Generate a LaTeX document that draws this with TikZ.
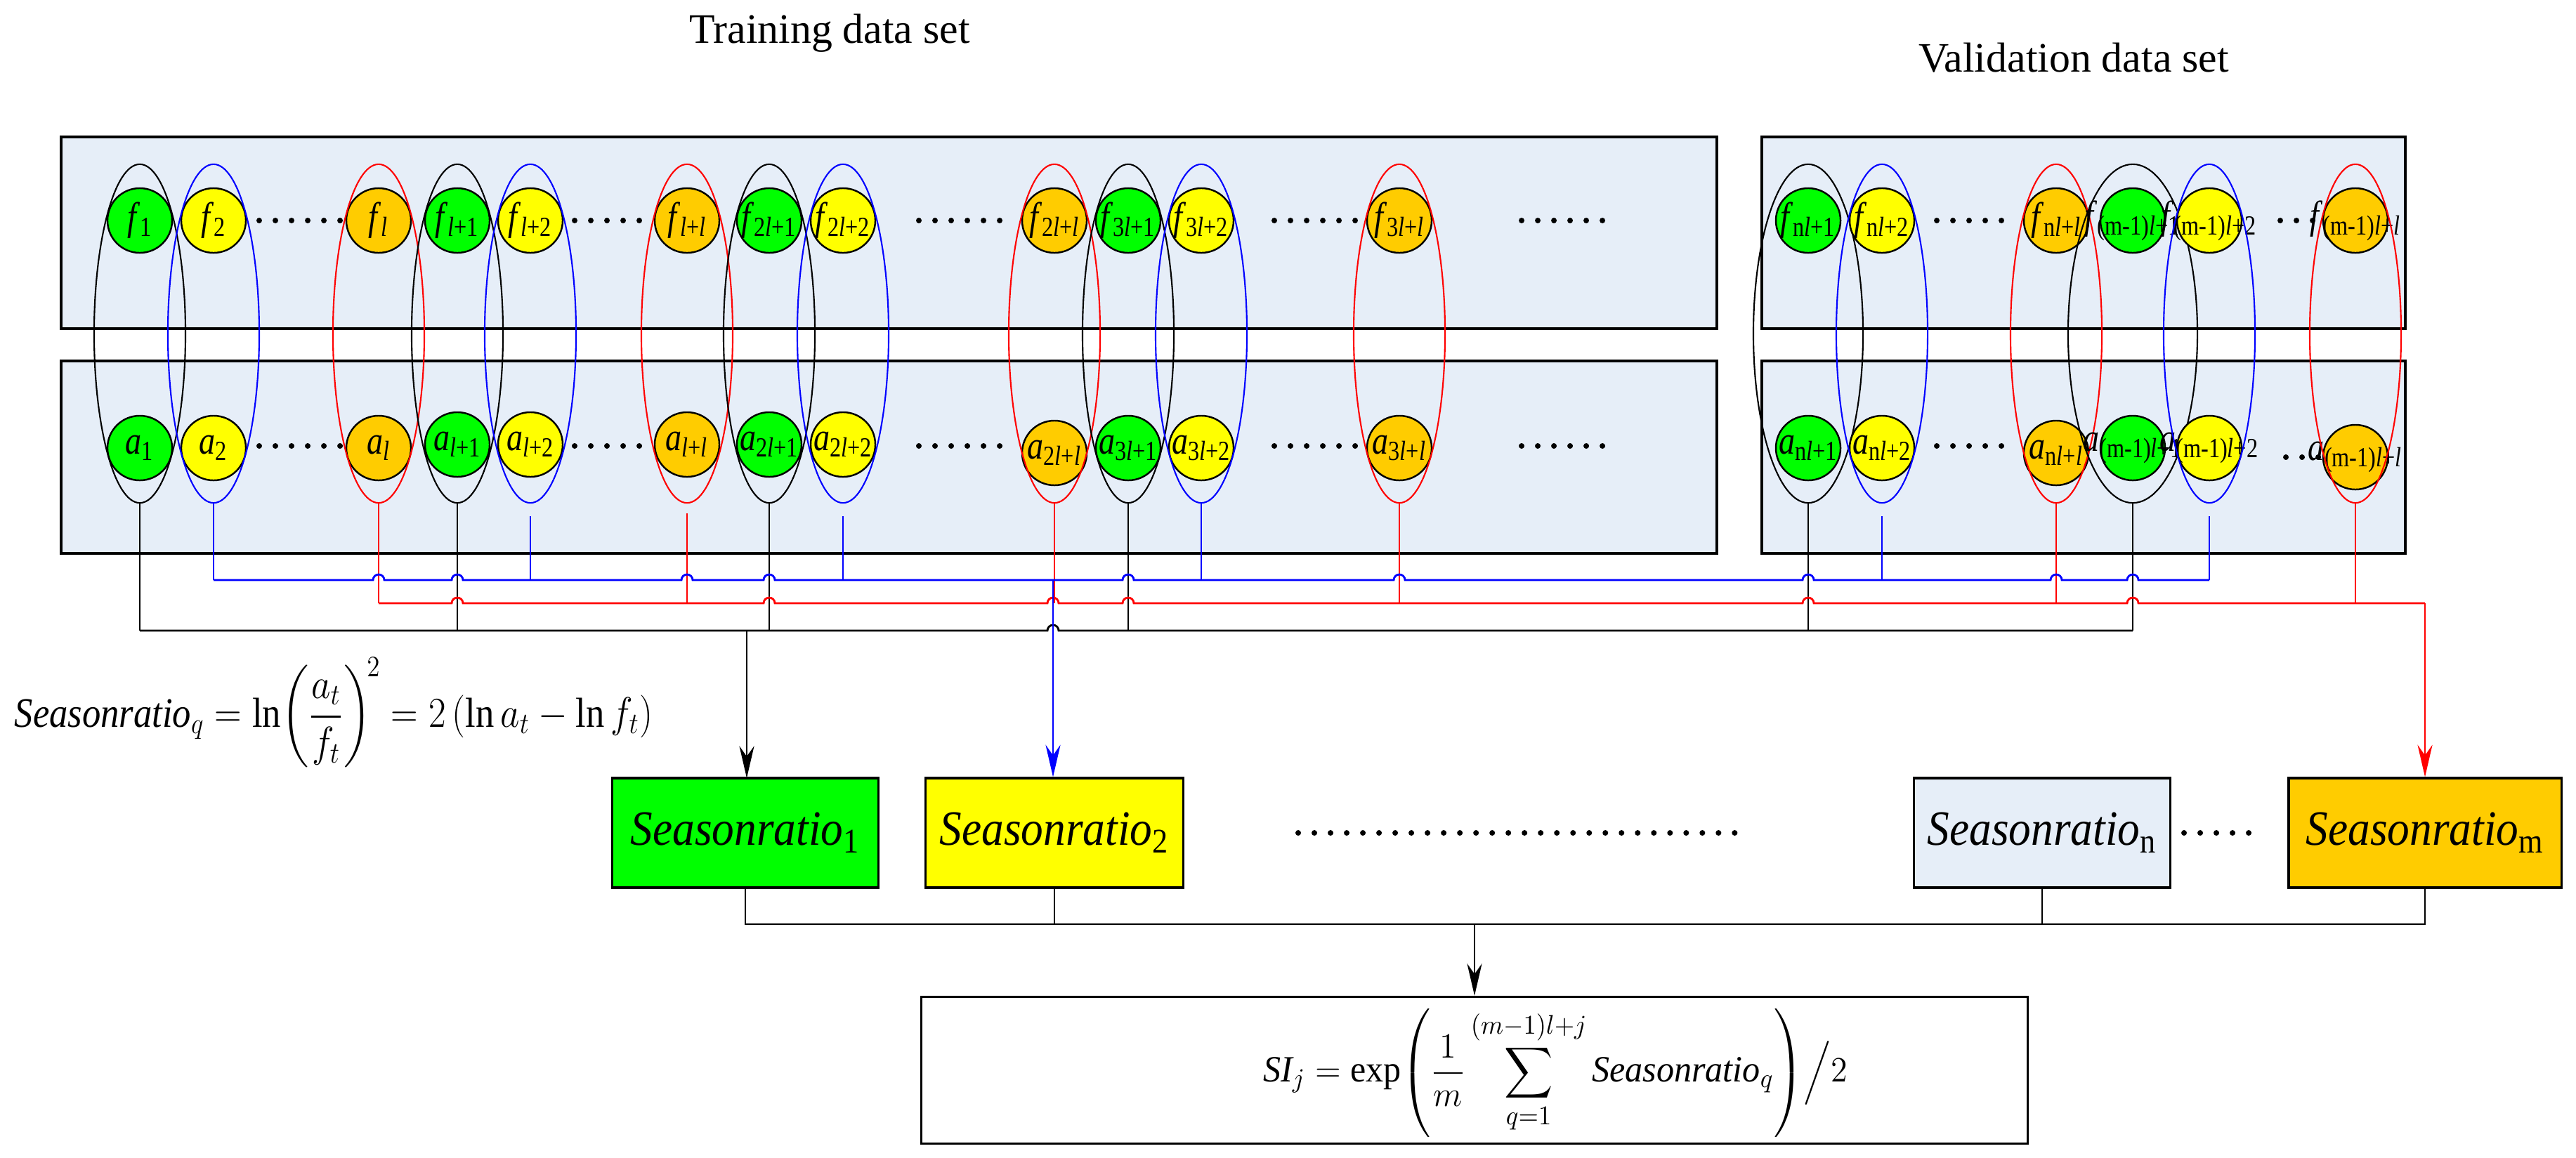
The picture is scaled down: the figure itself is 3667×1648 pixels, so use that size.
\documentclass[tikz,border=0pt]{standalone}
\usepackage{amsmath}
\usepackage{fontspec}
\setmainfont{Liberation Serif}
\usetikzlibrary{shapes.geometric,arrows.meta}
\definecolor{orng}{RGB}{255,204,0}
\definecolor{grn}{RGB}{0,255,0}
\definecolor{ylw}{RGB}{255,255,0}
\definecolor{bgb}{RGB}{230,238,248}
\newcommand\lab[2]{\scalebox{0.82}[1]{\textit{#1}\textsubscript{#2}}}
\newcommand\hp[2]{-- ({#1-8},#2) arc[start angle=180,end angle=0,radius=0.08cm]}
\tikzset{
 panel/.style={draw=black,fill=bgb,line width=0.9pt},
 ball/.style={circle,draw=black,line width=0.7pt,minimum size=0.92cm,inner sep=0pt},
 lbl/.style={inner sep=0pt,font=\fontsize{16}{16}\selectfont},
 ell/.style={ellipse,line width=0.6pt,minimum height=4.82cm,inner sep=0pt},
 dots/.style={line width=0.08cm,line cap=round,dash pattern=on 0pt off 0.23cm},
 bus/.style={line width=0.8pt},
 arr/.style={-{Stealth[length=13pt,width=6pt]}},
 sbox/.style={draw=black,line width=0.9pt,minimum width=#1,minimum height=1.56cm,inner sep=0pt,font=\fontsize{20}{20}\selectfont},
 ttl/.style={font=\fontsize{17}{17}\selectfont}
}
\begin{document}
\begin{tikzpicture}[x=0.01cm,y=-0.01cm]
\useasboundingbox (0,0) rectangle (3667,1648);
\node[ttl] (t1) at (1181,47) {Training data set};
\node[ttl] (t2) at (2952,82) {Validation data set};
\draw[panel] (87,195) rectangle (2444,468);
\draw[panel] (87,514) rectangle (2444,788);
\draw[panel] (2508,195) rectangle (3424,468);
\draw[panel] (2508,514) rectangle (3424,788);
\coordinate (bl) at (0,826);
\coordinate (rd) at (0,859);
\coordinate (bk) at (0,898);
\foreach \x/\fc/\s/\ec/\ew/\ay [count=\i] in {
199/grn/1/black/1.3/638,
304/ylw/2/blue/1.3/638,
539/orng/\textit{l}/red/1.3/638,
651/grn/\textit{l}+1/black/1.3/633,
755/ylw/\textit{l}+2/blue/1.3/633,
978/orng/\textit{l}+\textit{l}/red/1.3/633,
1095/grn/2\textit{l}+1/black/1.3/633,
1200/ylw/2\textit{l}+2/blue/1.3/633,
1501/orng/2\textit{l}+\textit{l}/red/1.3/645,
1606/grn/3\textit{l}+1/black/1.3/638,
1710/ylw/3\textit{l}+2/blue/1.3/638,
1992/orng/3\textit{l}+\textit{l}/red/1.3/638,
2574/grn/n\textit{l}+1/black/1.56/638,
2679/ylw/n\textit{l}+2/blue/1.3/638,
2927/orng/n\textit{l}+\textit{l}/red/1.3/645,
3036/grn/(m-1)\textit{l}+1/black/1.84/638,
3145/ylw/(m-1)\textit{l}+2/blue/1.3/638,
3353/orng/(m-1)\textit{l}+\textit{l}/red/1.3/651}{
 \node[ball,fill=\fc] (f\i) at (\x,314) {};
 \node[lbl] (fl\i) at (f\i) {\lab{f}{\s}};
 \node[ball,fill=\fc] (a\i) at (\x,\ay) {};
 \node[lbl] (al\i) at (a\i) {\lab{a}{\s}};
 \node[ell,draw=\ec,minimum width=\ew cm] (e\i) at (\x,475) {};
}
% dots
\foreach \xa/\xb in {369/485,818/912,1308/1424,1814/1930,2166/2282,2757/2869}{
 \draw[dots] (\xa,314) -- (\xb+2,314);
 \draw[dots] (\xa,635) -- (\xb+2,635);
}
\draw[dots] (3246,314) -- (3298,314);
\draw[dots] (3254,651) -- (3306,651);
% verticals
\foreach \i in {1,4,7,10,13,16}{\draw[bus] (e\i.south) -- (e\i.south |- bk);}
\foreach \i in {3,9,12,15,18}{\draw[bus,red] (e\i.south) -- (e\i.south |- rd);}
\draw[bus,red] ([yshift=-0.14cm]e6.south) -- (e6.south |- rd);
\foreach \i in {2,11}{\draw[bus,blue] (e\i.south) -- (e\i.south |- bl);}
\foreach \i in {5,8,14,17}{\draw[bus,blue] ([yshift=-0.18cm]e\i.south) -- (e\i.south |- bl);}
% buses
\draw[bus,blue] (304,826) \hp{539}{826} \hp{651}{826} \hp{978}{826} \hp{1095}{826}
  \hp{1606}{826} \hp{1992}{826} \hp{2574}{826} \hp{2927}{826} \hp{3036}{826} -- (3145,826);
\draw[bus,red] (539,859) \hp{651}{859} \hp{1095}{859} \hp{1499}{859} \hp{1606}{859}
  \hp{2574}{859} \hp{3036}{859} -- (3452,859);
\draw[bus] (199,898) \hp{1499}{898} -- (3036,898);
% boxes
\node[sbox=3.79cm,fill=grn] (s1) at (1061,1186) {\scalebox{0.9}[1]{\textit{Seasonratio}\textsubscript{1}}};
\node[sbox=3.67cm,fill=ylw] (s2) at (1501,1186) {\scalebox{0.9}[1]{\textit{Seasonratio}\textsubscript{2}}};
\node[sbox=3.65cm,fill=bgb] (sn) at (2907,1186) {\scalebox{0.9}[1]{\textit{Seasonratio}\textsubscript{n}}};
\node[sbox=3.88cm,fill=orng] (sm) at (3452,1186) {\scalebox{0.9}[1]{\textit{Seasonratio}\textsubscript{m}}};
\draw[dots] (1848,1186) -- (2482,1186);
\draw[dots] (3109,1186) -- (3224,1186);
\draw[bus,arr] (1063,898) -- (1063,1108);
\draw[bus,blue,arr] (1499,826) -- (s2.north -| 1499,0);
\draw[bus,red,arr] (3452,859) -- (sm.north);
% bottom bus
\draw[bus] (s1.south) -- (1061,1316) -- (3452,1316) -- (sm.south);
\draw[bus] (s2.south) -- (1501,1316);
\draw[bus] (sn.south) -- (2907,1316);
\node[draw=black,line width=0.9pt,minimum width=15.74cm,minimum height=2.09cm,inner sep=0pt] (si) at (2099,1524) {};
\draw[bus,arr] (2099,1316) -- (si.north);
\node[inner sep=0pt,font=\fontsize{15}{15}\selectfont] (fs) at (2214,1528)
 {\scalebox{0.95}[1]{$\displaystyle \mathit{SI}_j=\exp\!\left(\frac{1}{m}\sum_{q=1}^{(m-1)l+j}\textit{Seasonratio}_q\right)\!\Big/2$}};
\node[inner sep=0pt,anchor=west,font=\fontsize{17}{17}\selectfont] (fq) at (20,1015)
 {\scalebox{0.88}[1]{$\displaystyle \textit{Seasonratio}_q=\ln\!\left(\frac{a_t}{f_t}\right)^{\!2}=2\left(\ln a_t-\ln f_t\right)$}};
\end{tikzpicture}
\end{document}
